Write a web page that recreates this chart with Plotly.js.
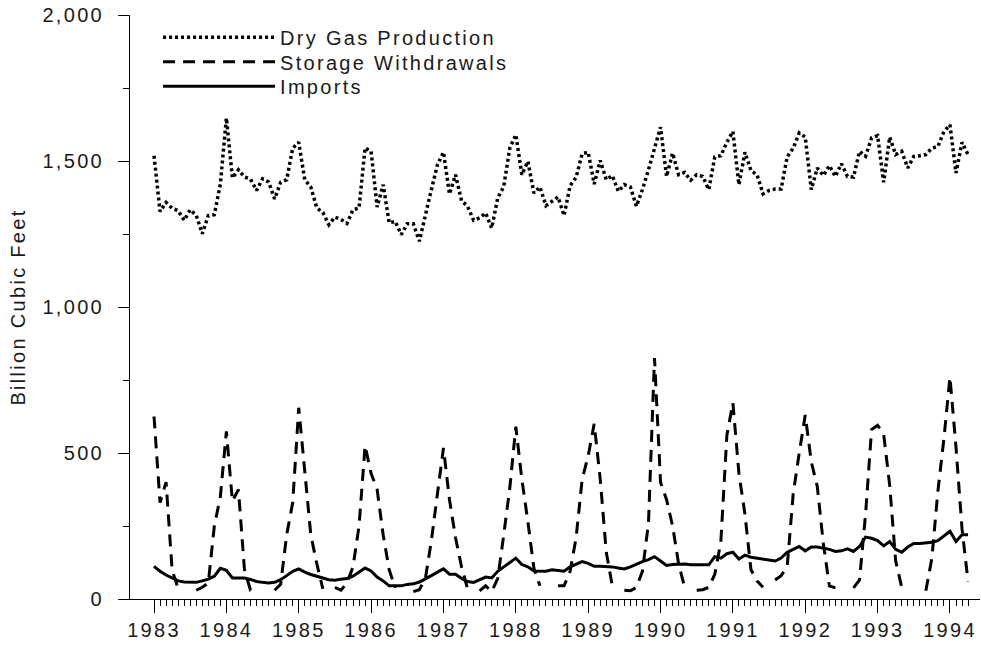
<!DOCTYPE html>
<html>
<head>
<meta charset="utf-8">
<script src="https://cdn.plot.ly/plotly-3.0.1.min.js"></script>
<style>
html, body { margin: 0; padding: 0; background: #ffffff; }
#chart { width: 981px; height: 647px; }
svg text { letter-spacing: 2.3px; }
</style>
</head>
<body>
<div id="chart"></div>
<script>
// ---- data (monthly, January 1983 - April 1994), billion cubic feet ----
const startYear = 1983;
const seriesNames = ['Dry Gas Production', 'Storage Withdrawals', 'Imports'];

const yearTicks = [1983, 1984, 1985, 1986, 1987, 1988, 1989, 1990, 1991, 1992, 1993, 1994];
const yearLabels = ['1983', '1984', '1985', '1986', '1987', '1988', '1989', '1990', '1991', '1992', '1993', '1994'];

const yTickValues = [0, 500, 1000, 1500, 2000];
const yTickLabels = ['0', '500', '1,000', '1,500', '2,000'];

const production = [
  1518, 1327, 1358, 1338, 1330, 1297, 1333, 1314, 1251, 1313, 1316, 1421,
  1647, 1442, 1470, 1445, 1438, 1399, 1439, 1428, 1370, 1427, 1436, 1544,
  1564, 1436, 1411, 1339, 1324, 1282, 1308, 1300, 1286, 1333, 1339, 1545,
  1533, 1342, 1419, 1288, 1293, 1248, 1285, 1285, 1225, 1318, 1402, 1487,
  1530, 1387, 1453, 1364, 1345, 1297, 1305, 1322, 1270, 1373, 1413, 1544,
  1590, 1453, 1499, 1390, 1411, 1347, 1362, 1377, 1313, 1415, 1444, 1525,
  1530, 1421, 1502, 1436, 1450, 1396, 1419, 1411, 1345, 1402, 1470, 1539,
  1616, 1447, 1527, 1453, 1461, 1434, 1453, 1447, 1402, 1514, 1518, 1564,
  1601, 1419, 1530, 1467, 1453, 1387, 1399, 1404, 1404, 1514, 1544, 1596,
  1582, 1402, 1476, 1450, 1484, 1447, 1491, 1447, 1445, 1533, 1516, 1579,
  1587, 1427, 1582, 1522, 1533, 1476, 1516, 1518, 1522, 1544, 1550, 1601,
  1624, 1459, 1564, 1522
];

const storage = [
  625, 330, 400, 100, 35, null, null, 30, 40, 55, 250, 350,
  574, 335, 375, 100, 30, 28, null, null, 30, 50, 220, 330,
  655, 440, 220, 120, 35, null, 40, 30, 55, 110, 250, 525,
  430, 375, 220, 100, 38, null, null, 25, 32, 70, 200, 360,
  517, 340, 210, 110, 35, null, 28, 45, 25, 70, 220, 380,
  590, 410, 265, 105, 45, null, null, 45, 45, 95, 210, 410,
  490, 600, 410, 160, 45, null, 30, 28, 40, 95, 260, 825,
  400, 340, 250, 120, 40, null, 30, 32, 40, 85, 195, 560,
  672, 430, 290, 100, 62, 40, null, 65, 80, 110, 360, 500,
  630, 470, 385, 190, 45, 38, null, null, 38, 65, 290, 580,
  595, 565, 390, 130, 40, 38, null, null, 28, 140, 370, 550,
  760, 520, 240, 60
];

const imports = [
  112, 95, 82, 72, 62, 58, 57, 57, 62, 68, 78, 105,
  98, 72, 72, 72, 67, 60, 57, 55, 57, 66, 80, 95,
  103, 92, 84, 77, 72, 66, 64, 68, 70, 78, 92, 106,
  96, 75, 62, 45, 45, 45, 50, 52, 58, 68, 80, 92,
  103, 85, 85, 70, 60, 57, 65, 75, 72, 95, 110, 125,
  140, 118, 110, 96, 95, 95, 100, 98, 95, 110, 120, 128,
  122, 112, 112, 112, 110, 106, 103, 110, 120, 128, 135, 145,
  130, 115, 118, 120, 120, 117, 117, 117, 117, 145, 140, 155,
  160, 137, 150, 143, 140, 136, 133, 130, 140, 160, 170, 180,
  165, 178, 178, 175, 170, 163, 165, 172, 163, 180, 212, 208,
  200, 182, 197, 170, 160, 178, 190, 190, 192, 194, 200, 215,
  232, 197, 220, 220
];

// month positions on a decimal-year axis
const months = production.map((_, i) => startYear + i / 12);

const black = '#000000';
const textColor = '#1a1a1a';
const fontFamily = '"Liberation Sans", Arial, Helvetica, sans-serif';
const fontSize = 20;

const traces = [
  { x: months, y: production, name: seriesNames[0], type: 'scatter', mode: 'lines', legend: 'legend',
    line: { color: black, width: 3.5, dash: '3px,3px' }, hoverinfo: 'skip' },
  { x: months, y: storage, name: seriesNames[1], type: 'scatter', mode: 'lines', connectgaps: false, legend: 'legend2',
    line: { color: black, width: 3, dash: '12px,8px' }, hoverinfo: 'skip' },
  { x: months, y: imports, name: seriesNames[2], type: 'scatter', mode: 'lines', legend: 'legend3',
    line: { color: black, width: 3 }, hoverinfo: 'skip' }
];

function legendAt(yPaper) {
  return {
    x: 0.033, y: yPaper, xanchor: 'left', yanchor: 'middle',
    bgcolor: 'rgba(0,0,0,0)', borderwidth: 0,
    itemwidth: 112, tracegroupgap: 0,
    font: { family: fontFamily, size: fontSize, color: textColor }
  };
}

const layout = {
  width: 981,
  height: 647,
  margin: { l: 130, r: 1, t: 15, b: 48, pad: 0 },
  paper_bgcolor: '#ffffff',
  plot_bgcolor: '#ffffff',
  font: { family: fontFamily, size: fontSize, color: textColor },
  showlegend: true,
  legend: legendAt(0.962),
  legend2: legendAt(0.920),
  legend3: legendAt(0.878),
  xaxis: {
    range: [1982.668, 1994.415],
    tickmode: 'array', tickvals: yearTicks, ticktext: yearLabels,
    ticks: 'outside', ticklen: 13, tickwidth: 1, tickcolor: black,
    showline: true, linecolor: black, linewidth: 1,
    showgrid: false, zeroline: false, fixedrange: true,
    minor: { tickmode: 'array', tickvals: months, ticks: 'outside', ticklen: 6, tickwidth: 1, tickcolor: black, showgrid: false },
    tickfont: { family: fontFamily, size: fontSize, color: textColor },
    automargin: false
  },
  yaxis: {
    range: [0, 2000],
    tickmode: 'array', tickvals: yTickValues, ticktext: yTickLabels,
    ticks: 'outside', ticklen: 11, tickwidth: 1, tickcolor: black,
    ticklabelstandoff: 10,
    showline: true, linecolor: black, linewidth: 1,
    showgrid: false, zeroline: false, fixedrange: true,
    minor: { tickmode: 'linear', tick0: 0, dtick: 250, ticks: 'outside', ticklen: 6, tickwidth: 1, tickcolor: black, showgrid: false },
    tickfont: { family: fontFamily, size: fontSize, color: textColor },
    title: { text: 'Billion Cubic Feet', font: { family: fontFamily, size: fontSize, color: textColor }, standoff: 11 },
    automargin: false
  }
};

Plotly.newPlot('chart', traces, layout, { displayModeBar: false, staticPlot: true });
</script>
</body>
</html>
